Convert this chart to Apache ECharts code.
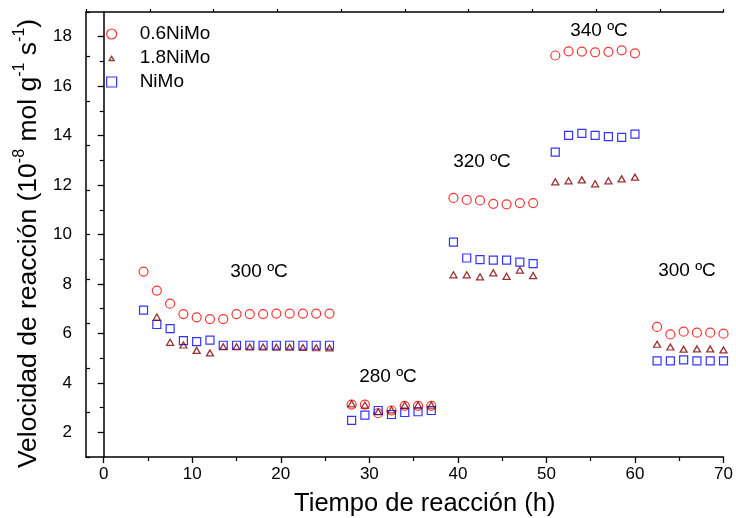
<!DOCTYPE html>
<html>
<head>
<meta charset="utf-8">
<script src="https://cdn.jsdelivr.net/npm/echarts@6/dist/echarts.min.js"></script>
<style>
  html, body { margin: 0; padding: 0; background: #fff; }
  #chart { width: 736px; height: 518px; }
</style>
</head>
<body>
<div id="chart"></div>
<script>
// Reaction time (h) for each sampling point
const time06 = [4.5, 6, 7.5, 9, 10.5, 12, 13.5, 15, 16.5, 18, 19.5, 21, 22.5, 24, 25.5,
  28, 29.5, 31, 32.5, 34, 35.5, 37,
  39.5, 41, 42.5, 44, 45.5, 47, 48.5,
  51, 52.5, 54, 55.5, 57, 58.5, 60,
  62.5, 64, 65.5, 67, 68.5, 70];
const time18 = [6, 7.5, 9, 10.5, 12, 13.5, 15, 16.5, 18, 19.5, 21, 22.5, 24, 25.5,
  28, 29.5, 31, 32.5, 34, 35.5, 37,
  39.5, 41, 42.5, 44, 45.5, 47, 48.5,
  51, 52.5, 54, 55.5, 57, 58.5, 60,
  62.5, 64, 65.5, 67, 68.5, 70];
const timeNiMo = time06;

// Reaction rate (10^-8 mol g^-1 s^-1)
const rate06 = [8.50, 7.73, 7.20, 6.78, 6.65, 6.58, 6.58, 6.78, 6.78, 6.78, 6.80, 6.80, 6.80, 6.80, 6.80,
  3.12, 3.12, 2.77, 2.88, 3.07, 3.07, 3.07,
  11.48, 11.40, 11.38, 11.24, 11.22, 11.27, 11.27,
  17.24, 17.41, 17.40, 17.37, 17.39, 17.45, 17.33,
  6.26, 5.96, 6.07, 6.03, 6.03, 5.99];
const rate18 = [6.66, 5.64, 5.53, 5.31, 5.21, 5.46, 5.46, 5.45, 5.45, 5.44, 5.44, 5.43, 5.42, 5.41,
  3.15, 3.10, 2.83, 2.91, 3.10, 3.10, 3.10,
  8.37, 8.37, 8.29, 8.45, 8.31, 8.56, 8.34,
  12.13, 12.17, 12.21, 12.05, 12.17, 12.25, 12.32,
  5.56, 5.45, 5.36, 5.37, 5.37, 5.33];
const rateNiMo = [6.94, 6.36, 6.19, 5.71, 5.67, 5.73, 5.52, 5.52, 5.52, 5.52, 5.52, 5.52, 5.52, 5.52, 5.52,
  2.48, 2.69, 2.88, 2.72, 2.80, 2.83, 2.88,
  9.69, 9.05, 8.98, 8.96, 8.96, 8.88, 8.82,
  13.33, 14.01, 14.09, 14.01, 13.96, 13.93, 14.06,
  4.89, 4.89, 4.93, 4.89, 4.89, 4.89];

const seriesNames = ['0.6NiMo', '1.8NiMo', 'NiMo'];
const xTickLabels = [0, 10, 20, 30, 40, 50, 60, 70];
const xMinorTicks = [5, 15, 25, 35, 45, 55, 65];
const yTickLabels = [2, 4, 6, 8, 10, 12, 14, 16, 18];
const yMinorTicks = [3, 5, 7, 9, 11, 13, 15, 17];
const tempLabels = ['300 ºC', '280 ºC', '320 ºC', '340 ºC', '300 ºC'];

const FONT = '"Liberation Sans", Arial, sans-serif';
const pair = (xs, ys) => xs.map((x, i) => [x, ys[i]]);

const chart = echarts.init(document.getElementById('chart'), null, { renderer: 'canvas' });

// pixel centres of the temperature annotations
const tempPos = [[259, 272], [388, 377], [482, 162], [599, 31], [687, 271]];

// small triangle legend icon, padded inside a larger box
const smallTriangle = 'path://M0,0M12,12M3,9L6,4L9,9Z';

const hollow = (c, w) => ({ color: 'rgba(255,255,255,0)', borderColor: c, borderWidth: w });

chart.setOption({
  backgroundColor: '#fff',
  animation: false,
  grid: { left: 86, right: 12.5, top: 12, bottom: 61, containLabel: false, outerBoundsMode: 'none' },
  xAxis: [
    {
      type: 'value', position: 'bottom', min: -2, max: 70,
      axisLine: { show: true, lineStyle: { color: '#000', width: 1.5 } },
      axisTick: { show: true, inside: false, length: 6, customValues: xTickLabels, lineStyle: { color: '#000', width: 1.3 } },
      axisLabel: { show: true, customValues: xTickLabels, margin: 9, color: '#000', fontSize: 17, fontFamily: FONT },
      splitLine: { show: false },
      name: 'Tiempo de reacción (h)', nameLocation: 'middle', nameGap: 34,
      nameTextStyle: { color: '#000', fontSize: 25.5, fontFamily: FONT, padding: [0, 0, 0, 40] }
    },
    {
      type: 'value', position: 'bottom', min: -2, max: 70,
      axisLine: { show: false },
      axisTick: { show: true, inside: false, length: 4, customValues: xMinorTicks, lineStyle: { color: '#000', width: 1.2 } },
      axisLabel: { show: false },
      splitLine: { show: false }
    },
    {
      type: 'value', position: 'top', min: 0, max: 10, interval: 1,
      axisLine: { show: true, lineStyle: { color: '#000', width: 1.5 } },
      axisTick: { show: true, inside: false, length: 3, lineStyle: { color: '#000', width: 1.2 } },
      axisLabel: { show: false },
      splitLine: { show: false }
    }
  ],
  yAxis: [
    {
      type: 'value', position: 'left', min: 1, max: 19,
      axisLine: { show: true, lineStyle: { color: '#000', width: 1.5 } },
      axisTick: { show: true, inside: false, length: 6, customValues: yTickLabels, lineStyle: { color: '#000', width: 1.3 } },
      axisLabel: { show: true, customValues: yTickLabels, margin: 14, color: '#000', fontSize: 17, fontFamily: FONT },
      splitLine: { show: false },
      name: '{n|Velocidad de reacción (10}{s|-8}{n| mol g}{s|-1}{n| s}{s|-1}{n|)}',
      nameLocation: 'middle', nameGap: 41, nameRotate: 90,
      nameTextStyle: {
        color: '#000', fontFamily: FONT, padding: [0, 18, 0, 0],
        rich: {
          n: { fontSize: 26.5, fontFamily: FONT, color: '#000', lineHeight: 31, verticalAlign: 'bottom' },
          s: { fontSize: 16, fontFamily: FONT, color: '#000', lineHeight: 31, verticalAlign: 'top' }
        }
      }
    },
    {
      type: 'value', position: 'left', min: 1, max: 19,
      axisLine: { show: false },
      axisTick: { show: true, inside: false, length: 4, customValues: yMinorTicks, lineStyle: { color: '#000', width: 1.2 } },
      axisLabel: { show: false },
      splitLine: { show: false }
    },
    {
      type: 'value', position: 'right', min: 0, max: 10, interval: 1,
      axisLine: { show: true, lineStyle: { color: '#000', width: 1.5 } },
      axisTick: { show: true, inside: false, length: 4, lineStyle: { color: '#000', width: 1.2 } },
      axisLabel: { show: false },
      splitLine: { show: false }
    }
  ],
  legend: {
    orient: 'vertical', left: 101, top: 19, padding: 5,
    itemWidth: 10, itemHeight: 10, itemGap: 4,
    data: [
      { name: seriesNames[0], itemStyle: hollow('#ff0000', 1.2) },
      { name: seriesNames[1], icon: smallTriangle, itemStyle: hollow('#800000', 1.3) },
      { name: seriesNames[2], itemStyle: hollow('#0000ff', 1.2) }
    ],
    textStyle: { color: '#000', fontSize: 19, fontFamily: FONT, lineHeight: 20, padding: [0, 0, 0, 18] }
  },
  series: [
    {
      name: seriesNames[0], type: 'scatter', xAxisIndex: 0, yAxisIndex: 0,
      symbol: 'circle', symbolSize: 9,
      itemStyle: hollow('#ff0000', 1.2),
      data: pair(time06, rate06), z: 2
    },
    {
      name: seriesNames[2], type: 'scatter', xAxisIndex: 0, yAxisIndex: 0,
      symbol: 'rect', symbolSize: 8,
      itemStyle: hollow('#0000ff', 1.2),
      data: pair(timeNiMo, rateNiMo), z: 3
    },
    {
      name: seriesNames[1], type: 'scatter', xAxisIndex: 0, yAxisIndex: 0,
      symbol: 'triangle', symbolSize: [7, 6],
      itemStyle: hollow('#800000', 1.3),
      data: pair(time18, rate18), z: 4
    }
  ],
  graphic: tempLabels.map((t, i) => ({
    type: 'text', x: tempPos[i][0], y: tempPos[i][1], z: 10,
    style: { text: t, fill: '#000', font: '19px ' + FONT, textAlign: 'center', textVerticalAlign: 'middle' }
  }))
});
</script>
</body>
</html>
